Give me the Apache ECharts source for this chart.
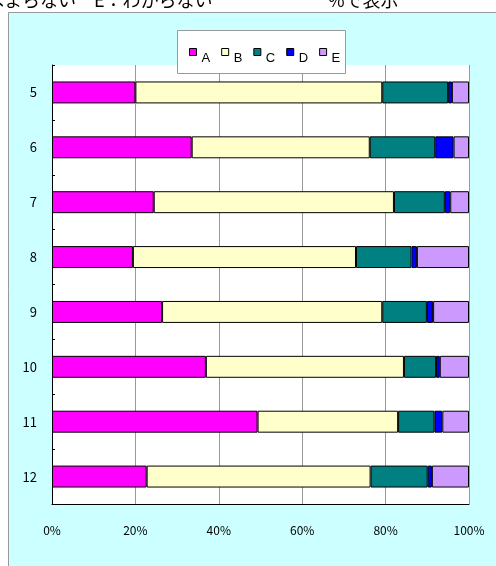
<!DOCTYPE html>
<html>
<head>
<meta charset="utf-8">
<style>
  html, body { margin: 0; padding: 0; background: #fff; }
  #chart { width: 496px; height: 566px; }
</style>
<script src="https://cdn.jsdelivr.net/npm/echarts@6/dist/echarts.min.js"></script>
</head>
<body>
<div id="chart"></div>
<script>
// ── Data (percent of answers per grade) ─────────────────────────────────────
const grades = ["5", "6", "7", "8", "9", "10", "11", "12"];
const seriesNames = ["A", "B", "C", "D", "E"];
const valuesA = [20.0, 33.5, 24.4, 19.4, 26.4, 36.9, 49.3, 22.7];
const valuesB = [59.2, 42.7, 57.6, 53.5, 52.8, 47.5, 33.7, 53.7];
const valuesC = [15.8, 15.7, 12.2, 13.3, 10.7, 7.7, 8.7, 13.7];
const valuesD = [0.9, 4.4, 1.3, 1.3, 1.5, 0.9, 1.9, 1.0];
const valuesE = [4.1, 3.7, 4.5, 12.5, 8.6, 7.0, 6.4, 8.9];
const xTicks = [0, 20, 40, 60, 80, 100];

const colors = ["#ff00ff", "#ffffcc", "#008080", "#0000ff", "#cc99ff"];
const FONT = "'Noto Sans CJK JP', sans-serif";

(function () {
  const chart = echarts.init(document.getElementById("chart"));
  const allValues = [valuesA, valuesB, valuesC, valuesD, valuesE];

  const series = seriesNames.map((name, i) => ({
    name: name,
    type: "bar",
    stack: "total",
    barWidth: "40%",
    data: allValues[i],
    itemStyle: { color: colors[i], borderColor: "#000", borderWidth: 1 },
    emphasis: { disabled: true },
  }));

  // header line, its upper half is cut off by the page edge
  function headerText(x, text, align) {
    return {
      type: "text",
      x: x,
      y: 9,
      style: {
        text: text,
        font: "18px " + FONT,
        fill: "#000",
        textAlign: align || "left",
        textVerticalAlign: "bottom",
      },
    };
  }

  chart.setOption({
    animation: false,
    textStyle: { fontFamily: FONT },
    graphic: [
      // outer chart frame
      {
        type: "rect",
        z: -10,
        shape: { x: 8.5, y: 12.5, width: 500, height: 570 },
        style: { fill: "#ccffff", stroke: "#999", lineWidth: 1 },
      },
      // legend box
      {
        type: "rect",
        z: 3,
        shape: { x: 177.5, y: 30.5, width: 168, height: 43 },
        style: { fill: "#fff", stroke: "#999", lineWidth: 1 },
      },
      headerText(76, "はまらない", "right"),
      headerText(94, "E：わからない"),
      headerText(328, "%で表示"),
    ],
    legend: {
      data: seriesNames,
      left: 189,
      top: 48,
      padding: 0,
      z: 5,
      // small square sitting high, like a superscript marker
      icon: "path://M0,0h7v7h-7zM0,20h0",
      itemWidth: 7,
      itemHeight: 20,
      itemGap: 11,
      itemStyle: { borderColor: "#000", borderWidth: 1 },
      textStyle: {
        fontSize: 13,
        color: "#000",
        fontFamily: "'Liberation Sans', Arial, sans-serif",
      },
      selectedMode: false,
    },
    grid: {
      left: 52,
      right: 27,
      top: 65,
      bottom: 62,
      show: true,
      backgroundColor: "#fff",
      borderWidth: 0,
    },
    xAxis: {
      type: "value",
      min: 0,
      max: 100,
      interval: 20,
      axisLine: { show: true, lineStyle: { color: "#000", width: 1 } },
      axisTick: { show: false },
      axisLabel: {
        margin: 20,
        fontSize: 12,
        color: "#000",
        formatter: (v) => (xTicks.includes(v) ? v + "%" : ""),
      },
      splitLine: { show: true, lineStyle: { color: "#999", width: 1 } },
    },
    yAxis: {
      type: "category",
      data: grades,
      inverse: true,
      axisLine: { show: true, lineStyle: { color: "#000", width: 1 } },
      axisTick: { show: true, inside: true, length: 3, lineStyle: { color: "#000" } },
      axisLabel: { margin: 15, fontSize: 13, color: "#000" },
      splitLine: { show: false },
    },
    series: series,
  });

  window.addEventListener("resize", () => chart.resize());
})();
</script>
</body>
</html>
